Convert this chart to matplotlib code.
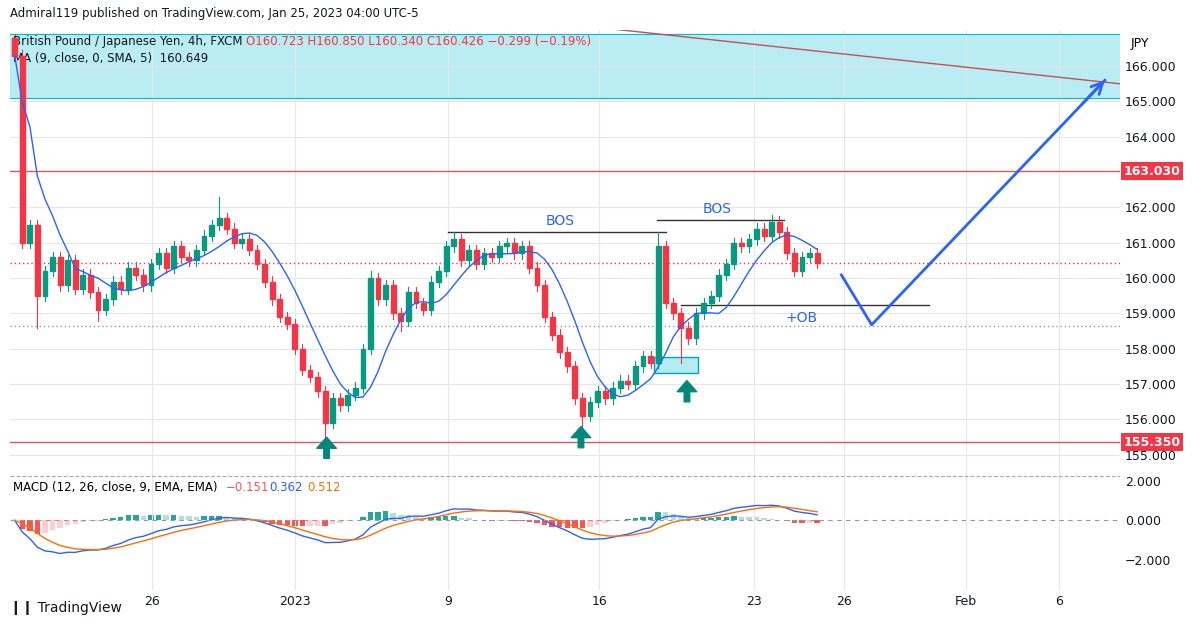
import numpy as np
import pandas as pd
import matplotlib.pyplot as plt
from matplotlib.patches import Rectangle

# closes per 4h-ish candle (x in trading days, 4 candles per day)
closes = [166.3, 161.0, 161.5, 159.5, 160.2, 160.6, 159.8, 160.5, 159.7, 160.1,
          159.6, 159.1, 159.4, 159.9, 159.7, 160.3, 160.1, 159.8, 160.4, 160.7,
          160.3, 160.9, 160.6, 160.5, 160.8, 161.2, 161.5, 161.7, 161.4, 161.0,
          161.1, 160.8, 160.4, 159.9, 159.4, 158.9, 158.7, 158.0, 157.4, 157.2,
          156.8, 155.9, 156.6, 156.4, 156.7, 156.9, 158.0, 160.0, 159.4, 159.8,
          159.0, 158.8, 159.6, 159.3, 159.1, 159.9, 160.2, 160.9, 161.1, 160.5,
          160.8, 160.4, 160.7, 160.6, 160.9, 161.0, 160.7, 160.9, 160.3, 159.8,
          158.9, 158.4, 157.9, 157.5, 156.6, 156.1, 156.5, 156.8, 156.6, 156.9,
          157.1, 157.0, 157.5, 157.8, 157.6, 160.9, 159.3, 159.0, 158.6, 158.3,
          159.0, 159.3, 159.5, 160.1, 160.4, 161.0, 160.9, 161.1, 161.4, 161.2,
          161.6, 161.3, 160.7, 160.2, 160.6, 160.7, 160.43]
first_open = 166.8
# explicit wick extremes where visible, others get short wicks
high_marks = {0: 166.9, 27: 162.3, 47: 160.2, 85: 161.3, 100: 161.8, 58: 161.3}
low_marks = {3: 158.6, 11: 158.8, 41: 155.35, 51: 158.5, 75: 155.7, 88: 157.6}

tick_pos = [4.52, 9.24, 14.3, 19.3, 24.4, 27.4, 31.4, 34.5]
tick_lab = ['26', '2023', '9', '16', '23', '26', 'Feb', '6']
price_ticks = [166, 165, 164, 162, 161, 160, 159, 158, 157, 156, 155]

# projection path (x days, price)
proj_x = [27.3, 28.3, 36.0]
proj_y = [160.09, 158.68, 165.6]

GREEN = '#089981'
RED = '#f23645'

n = len(closes)
x = np.arange(n) * 0.25
opens = [first_open] + closes[:-1]
highs = [high_marks.get(i, max(opens[i], closes[i]) + 0.15) for i in range(n)]
lows = [low_marks.get(i, min(opens[i], closes[i]) - 0.15) for i in range(n)]

fig = plt.figure(figsize=(11.94, 6.27), dpi=100)
ax = fig.add_axes([0.008, 0.238, 0.93, 0.714])
ax2 = fig.add_axes([0.008, 0.059, 0.93, 0.179], sharex=ax)

# candles
for i in range(n):
    c = GREEN if closes[i] >= opens[i] else RED
    ax.plot([x[i], x[i]], [lows[i], highs[i]], color=c, lw=0.8, zorder=3)
    b0 = min(opens[i], closes[i])
    ax.add_patch(Rectangle((x[i] - 0.08, b0), 0.16, max(abs(closes[i] - opens[i]), 0.03),
                           color=c, zorder=4))

s = pd.Series(closes)
ma = s.rolling(6, min_periods=1).mean().rolling(3, min_periods=1).mean()
ax.plot(x, ma, color='#2962ff', lw=1, zorder=5)

# zones and levels
ax.axhspan(165.1, 166.9, color='#b2ebf2', alpha=0.9, zorder=1)
ax.axhline(165.1, color='#00bcd4', lw=0.8)
ax.axhline(166.9, color='#00bcd4', lw=0.8)
ax.axhline(163.03, color='#e0525e', lw=1)
ax.axhline(155.35, color='#e0525e', lw=1)
ax.axhline(160.426, color=RED, lw=1, ls=(0, (1, 2)))
ax.axhline(158.65, color='#999999', lw=1, ls=(0, (1, 2)))
ax.plot([19.2, 36.5], [167.1, 165.5], color='#c2505c', lw=1)

# structure lines
ax.plot([14.3, 21.5], [161.3, 161.3], color='#333333', lw=1)
ax.text(18.0, 161.5, 'BOS', color='#2962ff', fontsize=10, ha='center')
ax.plot([21.2, 25.4], [161.65, 161.65], color='#333333', lw=1)
ax.text(23.2, 161.85, 'BOS', color='#2962ff', fontsize=10, ha='center')
ax.plot([22.0, 30.2], [159.24, 159.24], color='#333333', lw=1)
ax.text(26.0, 158.75, '+OB', color='#2962ff', fontsize=10, ha='center')
ax.add_patch(Rectangle((21.1, 157.32), 1.45, 0.45, facecolor='#b2ebf2',
                       edgecolor='#00a5bd', lw=1, zorder=2))
for ax_x, ay in [(10.3, 154.9), (18.7, 155.2), (22.2, 156.5)]:
    ax.annotate('', xy=(ax_x, ay + 0.6), xytext=(ax_x, ay),
                arrowprops=dict(facecolor='#00897b', edgecolor='#00897b', width=4, headwidth=14, headlength=8))
ax.plot(proj_x, proj_y, color='#2962ff', lw=2)
ax.annotate('', xy=(proj_x[-1], proj_y[-1]),
            xytext=(proj_x[1] + 0.9 * (proj_x[2] - proj_x[1]), proj_y[1] + 0.9 * (proj_y[2] - proj_y[1])),
            arrowprops=dict(arrowstyle='->', color='#2962ff', lw=2, mutation_scale=20, shrinkA=0, shrinkB=0))

ax.set_xlim(-0.17, 36.5)
ax.set_ylim(154.35, 167.02)
ax.yaxis.tick_right()
ax.set_yticks(price_ticks)
ax.set_yticklabels(['%.3f' % p for p in price_ticks])
ax.tick_params(axis='y', length=0, labelsize=9, colors='#131722')
ax.tick_params(axis='x', length=0, labelbottom=False)
ax.grid(color='#e6e6e6', lw=0.8)
for sp in ax.spines.values():
    sp.set_visible(False)
ax.axhline(154.4, color='#aaaaaa', lw=0.8, ls='--')
for lvl, lab in [(163.03, '163.030'), (155.35, '155.350')]:
    ax.text(1.003, (lvl - 154.35) / (167.02 - 154.35), lab, transform=ax.transAxes, va='center',
            fontsize=9, color='white', fontweight='bold',
            bbox=dict(boxstyle='square,pad=0.2', fc='#f23645', ec='none'))
ax.text(1.01, 0.985, 'JPY', transform=ax.transAxes, fontsize=9, va='top')

ax.text(0.003, 0.99, 'British Pound / Japanese Yen, 4h, FXCM',
        transform=ax.transAxes, fontsize=8.5, va='top', color='#131722')
ax.text(0.213, 0.99, 'O160.723 H160.850 L160.340 C160.426 \u22120.299 (\u22120.19%)',
        transform=ax.transAxes, fontsize=8.5, va='top', color='#f23645')
ax.text(0.003, 0.952, 'MA (9, close, 0, SMA, 5)  160.649', transform=ax.transAxes,
        fontsize=8.5, va='top', color='#131722')

# MACD
ema12 = s.ewm(span=8, adjust=False).mean()
ema26 = s.ewm(span=17, adjust=False).mean()
macd = ema12 - ema26
sig = macd.ewm(span=6, adjust=False).mean()
hist = macd - sig
cols = []
for i in range(n):
    prev = hist[i - 1] if i > 0 else 0
    if hist[i] >= 0:
        cols.append('#26a69a' if hist[i] >= prev else '#b2dfdb')
    else:
        cols.append('#ff5252' if hist[i] < prev else '#ffcdd2')
ax2.bar(x, hist, width=0.18, color=cols)
ax2.plot(x, macd, color='#2962ff', lw=1)
ax2.plot(x, sig, color='#ff6d00', lw=1)
ax2.axhline(0, color='#999999', lw=0.8, ls=(0, (4, 4)))
ax2.set_ylim(-3.52, 2.15)
ax2.yaxis.tick_right()
ax2.set_yticks([2, 0, -2])
ax2.set_yticklabels(['2.000', '0.000', '\u22122.000'])
ax2.set_xticks(tick_pos)
ax2.set_xticklabels(tick_lab)
ax2.tick_params(length=0, labelsize=9, colors='#131722')
ax2.grid(axis='x', color='#e6e6e6', lw=0.8)
for sp in ax2.spines.values():
    sp.set_visible(False)
ax2.text(0.003, 0.97, 'MACD (12, 26, close, 9, EMA, EMA)', transform=ax2.transAxes,
         fontsize=8.5, va='top')
ax2.text(0.195, 0.97, '\u22120.151', transform=ax2.transAxes, fontsize=8.5, va='top', color='#ff5252')
ax2.text(0.234, 0.97, '0.362', transform=ax2.transAxes, fontsize=8.5, va='top', color='#2962ff')
ax2.text(0.268, 0.97, '0.512', transform=ax2.transAxes, fontsize=8.5, va='top', color='#ff6d00')

fig.text(0.008, 0.978, 'Admiral119 published on TradingView.com, Jan 25, 2023 04:00 UTC-5',
         fontsize=8.5, va='center', color='#131722')
fig.text(0.008, 0.03, '\u2759\u2759 TradingView', fontsize=10, va='center', color='#131722')

fig.savefig('out.png', dpi=100)
